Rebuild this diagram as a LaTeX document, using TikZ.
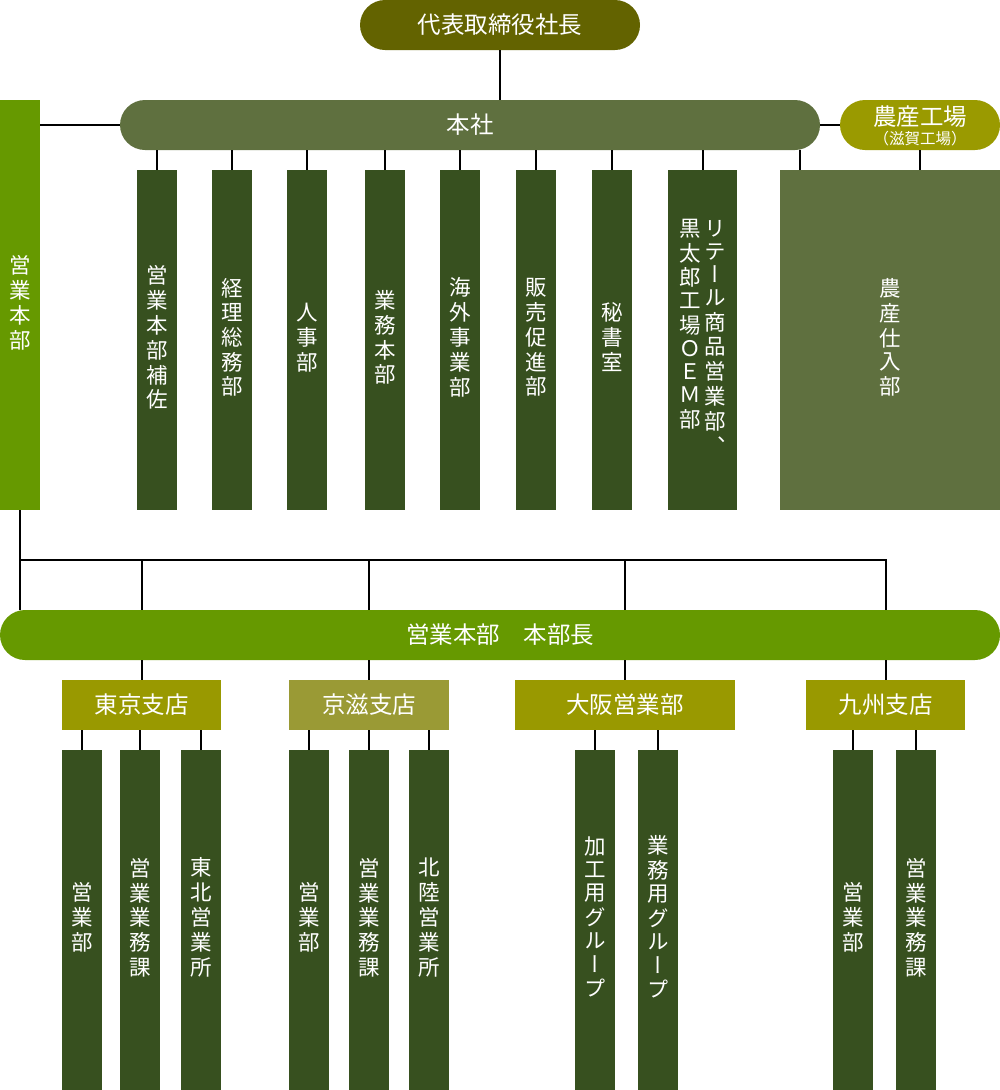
\documentclass[tikz,border=0pt]{standalone}
\usepackage{fontspec}
\setmainfont{Noto Sans CJK JP}
\newfontfamily\vjp[RawFeature={+vert}]{Noto Sans CJK JP}
\newcommand\vcol[1]{\begin{tabular}[t]{@{}c@{}}#1\end{tabular}}
\definecolor{ceocol}{HTML}{636300}
\definecolor{honshacol}{HTML}{5F703F}
\definecolor{nosancol}{HTML}{9A9A00}
\definecolor{eigyocol}{HTML}{669900}
\definecolor{branchcol}{HTML}{999900}
\definecolor{keijicol}{HTML}{9A9A35}
\definecolor{colgreen}{HTML}{37501F}
\begin{document}
\begin{tikzpicture}[x=1pt,y=-1pt,
  pill/.style={rounded corners=25pt,minimum height=50,inner sep=0,text=white,font=\fontsize{23.5}{26}\selectfont},
  branch/.style={minimum height=50,inner sep=0,text=white,font=\fontsize{23.5}{26}\selectfont},
  col/.style={fill=colgreen,minimum width=40,minimum height=340,inner sep=0,text=white,font=\vjp\fontsize{21.5}{23}\selectfont}]
\useasboundingbox (0,0) rectangle (1000,1090);

\node[pill,fill=ceocol,minimum width=280](ceo) at (500,25) {代表取締役社長};
\node[pill,fill=honshacol,minimum width=700](honsha) at (470,125) {本社};
\node[pill,fill=nosancol,minimum width=160,text height=20pt,text depth=20pt](nosan) at (920,125) {\begin{tabular}[t]{@{}c@{}}農産工場\\[-7pt]\fontsize{15.5}{17}\selectfont （滋賀工場）\end{tabular}};
\node[col,fill=eigyocol,minimum height=410](eigyo) at (20,305) {\vcol{営\\業\\本\\部}};

\node[col](c1) at (157,340) {\vcol{営\\業\\本\\部\\補\\佐}};
\node[col](c2) at (232,340) {\vcol{経\\理\\総\\務\\部}};
\node[col](c3) at (307,340) {\vcol{人\\事\\部}};
\node[col](c4) at (385,340) {\vcol{業\\務\\本\\部}};
\node[col](c5) at (460,340) {\vcol{海\\外\\事\\業\\部}};
\node[col](c6) at (536,340) {\vcol{販\\売\\促\\進\\部}};
\node[col](c7) at (612,340) {\vcol{秘\\書\\室}};
\node[col,minimum width=69](c8) at (702.5,340) {\vcol{黒\\太\\郎\\工\\場\\Ｏ\\Ｅ\\Ｍ\\部}\hspace{3pt}\vcol{リ\\テ\\ー\\ル\\商\\品\\営\\業\\部\\、}};
\node[col,fill=honshacol,minimum width=220](shiire) at (890,340) {\vcol{農\\産\\仕\\入\\部}};
\coordinate(s1) at (800,170);

\node[pill,fill=eigyocol,minimum width=1000](hq) at (500,635) {営業本部　本部長};
\coordinate(bus) at (20,560);

\node[branch,fill=branchcol,minimum width=159](tokyo) at (141.5,705) {東京支店};
\node[branch,fill=keijicol,minimum width=160](keiji) at (369,705) {京滋支店};
\node[branch,fill=branchcol,minimum width=220](osaka) at (625,705) {大阪営業部};
\node[branch,fill=branchcol,minimum width=159](kyushu) at (885.5,705) {九州支店};

\node[col](t1) at (82,920) {\vcol{営\\業\\部}};
\node[col](t2) at (140,920) {\vcol{営\\業\\業\\務\\課}};
\node[col](t3) at (201,920) {\vcol{東\\北\\営\\業\\所}};
\node[col](k1) at (309,920) {\vcol{営\\業\\部}};
\node[col](k2) at (369,920) {\vcol{営\\業\\業\\務\\課}};
\node[col](k3) at (429,920) {\vcol{北\\陸\\営\\業\\所}};
\node[col](o1) at (595,920) {\vcol{加\\工\\用\\グ\\ル\\ー\\プ}};
\node[col](o2) at (658,920) {\vcol{業\\務\\用\\グ\\ル\\ー\\プ}};
\node[col](q1) at (853,920) {\vcol{営\\業\\部}};
\node[col](q2) at (916,920) {\vcol{営\\業\\業\\務\\課}};

\draw[line width=2pt] (ceo.south) -- (ceo.south |- honsha.north);
\draw[line width=2pt] (honsha.west) -- (honsha.west -| eigyo.east);
\draw[line width=2pt] (honsha.east) -- (nosan.west);

\draw[line width=2pt] (c1.north) -- (c1.north |- honsha.south);
\draw[line width=2pt] (c2.north) -- (c2.north |- honsha.south);
\draw[line width=2pt] (c3.north) -- (c3.north |- honsha.south);
\draw[line width=2pt] (c4.north) -- (c4.north |- honsha.south);
\draw[line width=2pt] (c5.north) -- (c5.north |- honsha.south);
\draw[line width=2pt] (c6.north) -- (c6.north |- honsha.south);
\draw[line width=2pt] (c7.north) -- (c7.north |- honsha.south);
\draw[line width=2pt] (c8.north) -- (c8.north |- honsha.south);
\draw[line width=2pt] (s1) -- (s1 |- honsha.south);
\draw[line width=2pt] (nosan.south) -- (nosan.south |- shiire.north);

\draw[line width=2pt] (eigyo.south) -- (eigyo.south |- hq.north);
\draw[line width=2pt] (bus) -- (kyushu.north |- bus) -- (kyushu.north |- hq.north);
\draw[line width=2pt] (tokyo.north |- bus) -- (tokyo.north |- hq.north);
\draw[line width=2pt] (keiji.north |- bus) -- (keiji.north |- hq.north);
\draw[line width=2pt] (osaka.north |- bus) -- (osaka.north |- hq.north);

\draw[line width=2pt] (tokyo.north) -- (tokyo.north |- hq.south);
\draw[line width=2pt] (keiji.north) -- (keiji.north |- hq.south);
\draw[line width=2pt] (osaka.north) -- (osaka.north |- hq.south);
\draw[line width=2pt] (kyushu.north) -- (kyushu.north |- hq.south);

\draw[line width=2pt] (t1.north) -- (t1.north |- tokyo.south);
\draw[line width=2pt] (t2.north) -- (t2.north |- tokyo.south);
\draw[line width=2pt] (t3.north) -- (t3.north |- tokyo.south);
\draw[line width=2pt] (k1.north) -- (k1.north |- keiji.south);
\draw[line width=2pt] (k2.north) -- (k2.north |- keiji.south);
\draw[line width=2pt] (k3.north) -- (k3.north |- keiji.south);
\draw[line width=2pt] (o1.north) -- (o1.north |- osaka.south);
\draw[line width=2pt] (o2.north) -- (o2.north |- osaka.south);
\draw[line width=2pt] (q1.north) -- (q1.north |- kyushu.south);
\draw[line width=2pt] (q2.north) -- (q2.north |- kyushu.south);

\end{tikzpicture}
\end{document}
